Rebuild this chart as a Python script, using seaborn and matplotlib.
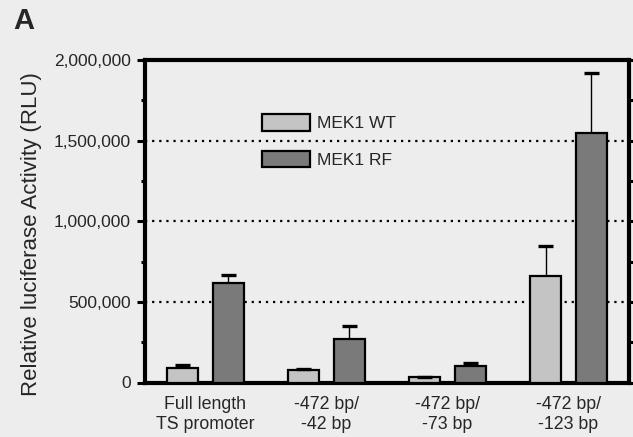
import matplotlib
matplotlib.use("Agg")
import matplotlib.pyplot as plt
import numpy as np
import pandas as pd
import seaborn as sns
from matplotlib.ticker import MultipleLocator, FuncFormatter

# Luciferase reporter constructs and the two MEK1 variants
constructs = ["Full length\nTS promoter", "-472 bp/\n-42 bp", "-472 bp/\n-73 bp", "-472 bp/\n-123 bp"]
groups = ["MEK1 WT", "MEK1 RF"]

# Mean relative luciferase activity (RLU) and upper error (SEM)
wt_mean = [88000, 78000, 32000, 662000]
wt_err = [22000, 4000, 4000, 183000]
rf_mean = [615000, 269000, 103000, 1550000]
rf_err = [54000, 82000, 16000, 369000]

y_ticks = [0, 500000, 1000000, 1500000, 2000000]

df = pd.DataFrame({
    "construct": constructs * 2,
    "group": [groups[0]] * 4 + [groups[1]] * 4,
    "rlu": wt_mean + rf_mean,
    "err": wt_err + rf_err,
})

sns.set_style("white")
plt.rcParams["font.family"] = ["Liberation Sans", "DejaVu Sans"]

bg = "#ededed"
fig = plt.figure(figsize=(6.33, 4.37), dpi=100, facecolor=bg)
ax = fig.add_axes([145 / 633, 1 - 382.5 / 437, (629 - 145) / 633, (382.5 - 60) / 437])
ax.set_facecolor(bg)

sns.barplot(data=df, x="construct", y="rlu", hue="group", order=constructs,
            hue_order=groups, palette=["#c4c4c4", "#7a7a7a"],
            width=0.76, gap=0.32, edgecolor="black", linewidth=1.6,
            errorbar=None, ax=ax, zorder=3)

# Upward-only error bars with heavy caps
for cont, errs in zip(ax.containers, [wt_err, rf_err]):
    for patch, e in zip(cont.patches, errs):
        xc = patch.get_x() + patch.get_width() / 2
        top = patch.get_height()
        ax.vlines(xc, top, top + e, color="black", linewidth=1.0, zorder=4)
        half = patch.get_width() * 0.23
        ax.hlines(top + e, xc - half, xc + half, color="black", linewidth=2.4, zorder=4)

ax.set_xlim(-0.5, 3.5)
ax.set_ylim(0, 2000000)
ax.set_yticks(y_ticks)
ax.yaxis.set_minor_locator(MultipleLocator(250000))
ax.yaxis.set_major_formatter(FuncFormatter(lambda v, p: f"{v:,.0f}"))

ax.set_axisbelow(True)
ax.yaxis.grid(True, which="major", linestyle=(0, (1, 2.2)), color="black", linewidth=1.6)
ax.xaxis.grid(False)

for s in ax.spines.values():
    s.set_visible(True)
    s.set_color("black")
    s.set_linewidth(3.0)

ax.tick_params(axis="y", which="major", direction="out", length=6, width=2.2,
               labelsize=12.5, pad=4, left=True, right=True, color="black")
ax.tick_params(axis="y", which="minor", direction="out", length=3, width=2.2,
               left=True, right=True, color="black")
ax.tick_params(axis="x", which="both", length=0, labelsize=12.8, pad=10)
for lbl in ax.get_xticklabels():
    lbl.set_linespacing(1.2)

ax.set_xlabel("")
ax.set_ylabel("Relative luciferase Activity (RLU)", fontsize=16)
ax.yaxis.set_label_coords(-0.213, 0.46)

leg = ax.get_legend()
if leg is not None:
    leg.remove()
handles = [c.patches[0] for c in ax.containers]
ax.legend(handles, groups, loc="upper left", frameon=False, fontsize=12.5,
          bbox_to_anchor=(262 / 633, 1 - 114.5 / 437), bbox_transform=fig.transFigure,
          borderpad=0, borderaxespad=0, handlelength=2.75, handleheight=1.05,
          handletextpad=0.4, labelspacing=1.1)

fig.text(13 / 633, 1 - 29 / 437, "A", fontsize=21, fontweight="bold", ha="left", va="baseline")

fig.savefig("out.png", dpi=100, facecolor=bg)
